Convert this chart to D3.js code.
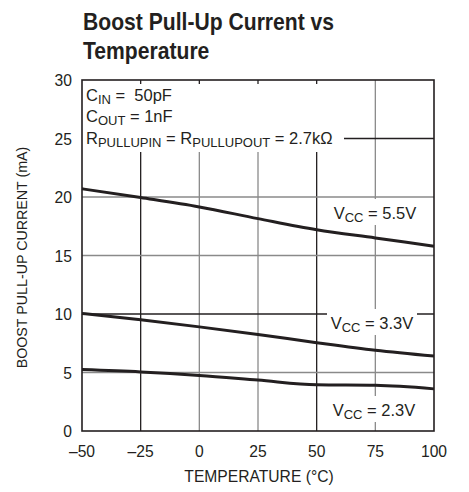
<!DOCTYPE html>
<html><head><meta charset="utf-8">
<script src="https://cdn.jsdelivr.net/npm/d3@7"></script>
<style>
body{margin:0;background:#fff;}
text{font-family:"Liberation Sans Narrow","Arial Narrow","Liberation Sans",sans-serif;fill:#231f20;}
</style></head><body>
<svg id="c" width="469" height="492"></svg>
<script>
const temps = [-50, -25, 0, 25, 50, 75, 100];
const v55 = [20.7, 19.95, 19.15, 18.15, 17.2, 16.5, 15.8];
const v33 = [10.05, 9.5, 8.9, 8.25, 7.55, 6.9, 6.4];
const v23 = [5.25, 5.05, 4.75, 4.35, 3.95, 3.9, 3.6];
const seriesLabels = ["5.5V", "3.3V", "2.3V"];
const xTicks = [-50, -25, 0, 25, 50, 75, 100];
const yTicks = [0, 5, 10, 15, 20, 25, 30];

const svg = d3.select("#c");
const x = d3.scaleLinear().domain([-50, 100]).range([82, 434]);
const y = d3.scaleLinear().domain([0, 30]).range([431, 80]);
const dark = "#231f20", grey = "#8a8a8a";
const darkX = [-25, 50], darkY = [10, 25];

function squeeze(sel, f) {
  sel.each(function () {
    const w = this.getComputedTextLength();
    d3.select(this).attr("textLength", w * f).attr("lengthAdjust", "spacingAndGlyphs");
  });
  return sel;
}

// title
squeeze(svg.append("text").attr("x", 83).attr("y", 30).attr("font-size", 24).attr("font-weight", "bold").text("Boost Pull-Up Current vs"), 0.88);
squeeze(svg.append("text").attr("x", 83).attr("y", 59).attr("font-size", 24).attr("font-weight", "bold").text("Temperature"), 0.88);

// grid
const g = svg.append("g");
g.selectAll(".vx").data(xTicks.slice(1, -1)).join("line")
  .attr("x1", d => x(d)).attr("x2", d => x(d)).attr("y1", y(30)).attr("y2", y(0))
  .attr("stroke", d => darkX.includes(d) ? dark : grey).attr("stroke-width", 1.3);
g.selectAll(".hy").data(yTicks.slice(1, -1)).join("line")
  .attr("y1", d => y(d)).attr("y2", d => y(d)).attr("x1", x(-50)).attr("x2", x(100))
  .attr("stroke", d => darkY.includes(d) ? dark : grey).attr("stroke-width", 1.3);

// annotation background
svg.append("rect").attr("x", x(-50)).attr("y", y(30)).attr("width", 262).attr("height", 72).attr("fill", "#fff");
// short top ticks
svg.selectAll(".tt").data([-25, 0, 25, 50]).join("line")
  .attr("x1", d => x(d)).attr("x2", d => x(d)).attr("y1", y(30)).attr("y2", y(30) + 4)
  .attr("stroke", dark).attr("stroke-width", 1.3);

// annotation text
const ann = svg.append("g").attr("font-size", 16.5);
function subText(xp, yp, parts, anchor) {
  const t = ann.append("text").attr("x", xp).attr("y", yp);
  if (anchor) t.attr("text-anchor", anchor);
  parts.forEach(p => {
    if (p.sub) t.append("tspan").attr("font-size", 13).attr("dy", 2.5).text(p.s);
    else t.append("tspan").attr("dy", p.after ? -2.5 : 0).text(p.s);
  });
  return t;
}
subText(86, 101, [{s: "C"}, {s: "IN", sub: 1}, {s: " =\u00a0 50pF", after: 1}]);
subText(86, 122, [{s: "C"}, {s: "OUT", sub: 1}, {s: " = 1nF", after: 1}]);
subText(86, 144, [{s: "R"}, {s: "PULLUPIN", sub: 1}, {s: " = R", after: 1}, {s: "PULLUPOUT", sub: 1}, {s: " = 2.7kΩ", after: 1}]);

// series labels with white backgrounds
const labelPos = [{cx: 375, y: 219}, {cx: 372, y: 329}, {cx: 374, y: 416}];
labelPos.forEach((p, i) => {
  svg.append("rect").attr("x", p.cx - 45).attr("y", p.y - 20).attr("width", 90).attr("height", 26).attr("fill", "#fff");
  const t = svg.append("text").attr("x", p.cx).attr("y", p.y).attr("font-size", 16.5).attr("text-anchor", "middle");
  t.append("tspan").text("V");
  t.append("tspan").attr("font-size", 13).attr("dy", 2.5).text("CC");
  t.append("tspan").attr("dy", -2.5).text(" = " + seriesLabels[i]);
});

// data lines
const line = d3.line().x((d, i) => x(temps[i])).y(d => y(d)).curve(d3.curveMonotoneX);
[v55, v33, v23].forEach(s => {
  svg.append("path").attr("d", line(s)).attr("fill", "none").attr("stroke", dark).attr("stroke-width", 3);
});

// frame
svg.append("rect").attr("x", x(-50)).attr("y", y(30)).attr("width", x(100) - x(-50)).attr("height", y(0) - y(30))
  .attr("fill", "none").attr("stroke", dark).attr("stroke-width", 1.6);

// tick labels
squeeze(svg.selectAll(".xl").data(xTicks).join("text")
  .attr("x", d => x(d)).attr("y", 457).attr("text-anchor", "middle").attr("font-size", 17)
  .text(d => d < 0 ? "\u2013" + Math.abs(d) : d), 0.92);
squeeze(svg.selectAll(".yl").data(yTicks).join("text")
  .attr("x", 72).attr("y", d => y(d) + 6).attr("text-anchor", "end").attr("font-size", 17)
  .text(d => d), 0.92);

// axis titles
squeeze(svg.append("text").attr("x", x(25) + 1).attr("y", 482).attr("text-anchor", "middle").attr("font-size", 17).text("TEMPERATURE (°C)"), 0.92);
squeeze(svg.append("text").attr("transform", "translate(27," + (y(15) + 2) + ") rotate(-90)").attr("text-anchor", "middle").attr("font-size", 15).text("BOOST PULL-UP CURRENT (mA)"), 0.95);
</script></body></html>
